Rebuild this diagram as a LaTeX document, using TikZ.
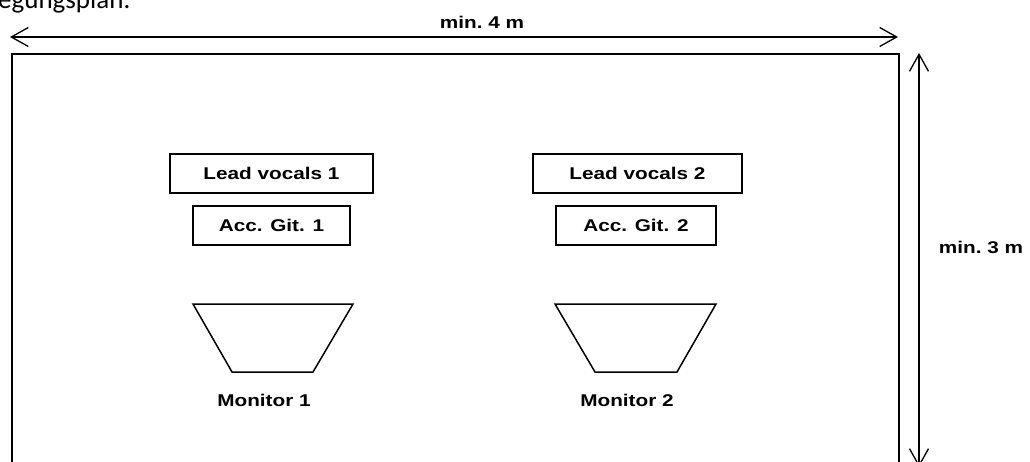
\documentclass[tikz,border=0pt]{standalone}
\usepackage{fontspec}
\setmainfont{Liberation Sans}
\newfontfamily\headfont{Carlito}
\usetikzlibrary{arrows.meta}
\tikzset{
  lbl/.style={font=\bfseries\fontsize{17}{20}\selectfont, inner sep=0pt},
  stagebox/.style={draw, line width=1.4pt, inner sep=0pt, minimum height=39pt},
  dim/.style={line width=1.3pt, {Straight Barb[length=17pt,width=19pt,line width=1.3pt]}-{Straight Barb[length=17pt,width=19pt,line width=1.3pt]}},
  wall/.style={line width=2pt},
  monitorshape/.style={line width=1.5pt, line join=miter}
}
\newcommand{\wide}[1]{\scalebox{1.22}[1]{#1}}
\begin{document}
\begin{tikzpicture}[x=1pt,y=-1pt]
\useasboundingbox (0,0) rectangle (1030,462);
\clip (0,0) rectangle (1030,462);
% header text (cut off)
\node[anchor=base west, inner sep=0pt, font=\headfont\fontsize{27}{30}\selectfont] (head) at (-2,8.5) {egungsplan:};
% stage outline
\draw[wall] (12,480) -- (12,54) -- (899,54) -- (899,480);
% dimension arrows
\coordinate (wl) at (10,37);
\coordinate (wr) at (898,37);
\draw[dim] (wl) -- (wr);
\node[lbl] (w) at (482,22) {\wide{min.\ 4 m}};
\coordinate (ht) at (919,53);
\coordinate (hb) at (919,467);
\draw[dim] (ht) -- (hb);
\node[lbl] (h) at (981,247) {\wide{min.\ 3 m}};
% boxes
\node[stagebox, lbl, draw, minimum width=203pt, minimum height=39pt] (lv1) at (271.5,173.5) {\wide{Lead vocals 1}};
\node[stagebox, lbl, draw, minimum width=157pt, minimum height=39pt] (ag1) at (271.5,225.5) {\wide{Acc. Git. 1}};
\node[stagebox, lbl, draw, minimum width=209pt, minimum height=39pt] (lv2) at (637.5,173.5) {\wide{Lead vocals 2}};
\node[stagebox, lbl, draw, minimum width=160pt, minimum height=39pt] (ag2) at (636,225.5) {\wide{Acc. Git. 2}};
% monitors
\draw[monitorshape] (193,304) -- (353,304) -- (313,372) -- (232,372) -- cycle;
\draw[monitorshape] (555,304) -- (716,304) -- (677,372) -- (595,372) -- cycle;
\node[lbl] (m1) at (264,400) {\wide{Monitor 1}};
\node[lbl] (m2) at (627,400) {\wide{Monitor 2}};
\end{tikzpicture}
\end{document}
